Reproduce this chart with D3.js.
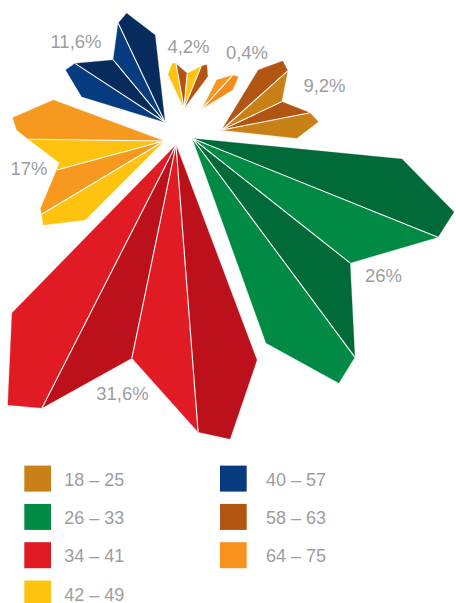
<!DOCTYPE html>
<html>
<head>
<meta charset="utf-8">
<script src="https://cdn.jsdelivr.net/npm/d3@7"></script>
<style>
  html, body { margin: 0; padding: 0; background: #fff; }
  svg { display: block; }
  text { font-family: "Liberation Sans", Arial, Helvetica, sans-serif; }
</style>
</head>
<body>
<svg id="chart" width="456" height="603"></svg>
<script>
// ---- data -------------------------------------------------------------
// share of each group (label text)
const groupLabels = ["11,6%", "4,2%", "0,4%", "9,2%", "26%", "31,6%", "17%"];

// outline of each group: vertex angles (degrees, clockwise from north)
// and vertex lengths, measured from the group's own hub
const anglesBlue   = [287.1, 297.8, 303.2, 320.3, 334.7, 340.6, 353.5];
const radiiBlue    = [87.1, 112.2, 107.6, 81.0, 109.5, 115.5, 87.9];
const anglesYellow = [-25.1, -14.6, -10.2, 5.4, 22.3, 27.6, 36.8];
const radiiYellow  = [37.2, 46.5, 45.2, 34.9, 45.3, 49.1, 39.6];
const anglesSmall  = [26.6, 42.3, 48.6, 58.6];
const radiiSmall   = [31.7, 44.6, 47.8, 35.1];
const anglesBrown  = [31.4, 41.5, 48.1, 64.7, 78.9, 85.1, 96.3];
const radiiBrown   = [70.3, 92.1, 88.7, 66.3, 90.0, 97.0, 75.5];
const anglesGreen  = [95.6, 105.7, 111.9, 128.3, 143.4, 149.1, 160.2];
const radiiGreen   = [210.5, 271.6, 264.5, 200.8, 272.3, 285.0, 217.3];
const anglesRed    = [159.4, 169.6, 175.6, 191.7, 207.0, 212.9, 224.3];
const radiiRed     = [229.8, 298.9, 287.8, 217.5, 295.2, 309.6, 234.8];
const anglesOrange = [225, 235.2, 239.1, 241.4, 254.9, 258.3, 270.7, 274.3, 278.75, 290.3];
const radiiOrange  = [111.7, 147.1, 142.6, 140.5, 111.2, 106.9, 135.7, 147.7, 153.1, 118.0];

// vertices where one sub-slice hands over to the next
const splitsBlue = [2, 3, 4], splitsYellow = [2, 3, 4], splitsSmall = [1],
      splitsBrown = [2, 3, 4], splitsGreen = [2, 3, 4], splitsRed = [2, 3, 4],
      splitsOrange = [2, 4, 6];

// legend
const legendLabels = ["18 – 25", "26 – 33", "34 – 41", "42 – 49", "40 – 57", "58 – 63", "64 – 75"];

// ---- styles & layout ----------------------------------------------------
const legendColors = ["#c98016", "#008a43", "#e01b23", "#fec20f", "#063b80", "#b25512", "#f7921e"];
const groupColors = [
  ["#063b80", "#072b5c"],
  ["#fec20f", "#b25512"],
  ["#f7961f", "#f38e1c"],
  ["#b25512", "#c98016"],
  ["#006a38", "#008a43"],
  ["#bc111a", "#e01b23"],
  ["#fec20f", "#f7981f"]
];
const center = [182, 126];
// hub of every group, pushed out from the centre: [distance, angle]
const hubOffsets = [[17.4, 282.3], [17.9, 6.4], [27.1, 49.2], [39.9, 95.8],
                    [16.3, 140], [19.9, 197.5], [23.4, 230.2]];
// label anchor (text centre x, baseline y)
const labelAt = [[76, 48], [188.5, 53], [247, 58.5], [324.5, 92],
                 [383.5, 282], [122.5, 400], [29, 175]];

const groups = [
  [anglesBlue, radiiBlue, splitsBlue],
  [anglesYellow, radiiYellow, splitsYellow],
  [anglesSmall, radiiSmall, splitsSmall],
  [anglesBrown, radiiBrown, splitsBrown],
  [anglesGreen, radiiGreen, splitsGreen],
  [anglesRed, radiiRed, splitsRed],
  [anglesOrange, radiiOrange, splitsOrange]
].map(([a, r, s], i) => ({
  label: groupLabels[i], angles: a, radii: r, splits: s,
  colors: groupColors[i], hub: hubOffsets[i], labelPos: labelAt[i]
}));

// ---- scales -------------------------------------------------------------
const angleScale = d3.scaleLinear().domain([0, 360]).range([0, 2 * Math.PI]);
const radiusScale = d3.scaleLinear().domain([0, 320]).range([0, 320]);

function polar(cx, cy, deg, len) {
  const t = angleScale(deg);
  return [cx + len * Math.sin(t), cy - len * Math.cos(t)];
}

const svg = d3.select("#chart");
const line = d3.line();

// ---- petals -------------------------------------------------------------
const petals = svg.append("g").attr("class", "petals");

groups.forEach(g => {
  const hub = polar(center[0], center[1], g.hub[1], g.hub[0]);
  const verts = g.angles.map((a, j) => polar(hub[0], hub[1], a, radiusScale(g.radii[j])));
  const bounds = [0, ...g.splits, verts.length - 1];
  const gg = petals.append("g");

  d3.range(bounds.length - 1).forEach(k => {
    const pts = [hub, ...verts.slice(bounds[k], bounds[k + 1] + 1)];
    gg.append("path")
      .attr("d", line(pts) + "Z")
      .attr("fill", g.colors[k % 2])
      .attr("stroke", g.colors[k % 2])
      .attr("stroke-width", 0.3)
      .attr("stroke-linejoin", "round");
  });

  gg.selectAll("line.split")
    .data(g.splits)
    .join("line")
    .attr("class", "split")
    .attr("x1", hub[0]).attr("y1", hub[1])
    .attr("x2", j => verts[j][0]).attr("y2", j => verts[j][1])
    .attr("stroke", "#fff")
    .attr("stroke-width", 1.1);
});

// ---- value labels ---------------------------------------------------------
svg.append("g").selectAll("text")
  .data(groups)
  .join("text")
  .attr("x", d => d.labelPos[0])
  .attr("y", d => d.labelPos[1])
  .attr("text-anchor", "middle")
  .attr("font-size", 18.5)
  .attr("fill", "#9d9d9d")
  .text(d => d.label);

// ---- legend -------------------------------------------------------------
const legendRow = d3.scaleLinear().domain([0, 1]).range([465.6, 503.9]);
const legend = svg.append("g").attr("class", "legend");
const items = legend.selectAll("g")
  .data(legendLabels.map((l, i) => ({ label: l, color: legendColors[i], col: i < 4 ? 0 : 1, row: i < 4 ? i : i - 4 })))
  .join("g")
  .attr("transform", d => `translate(${d.col ? 220 : 24.3},${legendRow(d.row)})`);

items.append("rect")
  .attr("width", 26.7)
  .attr("height", 26)
  .attr("fill", d => d.color);

items.append("text")
  .attr("x", d => d.col ? 46 : 40)
  .attr("y", 20.2)
  .attr("font-size", 18)
  .attr("fill", "#9d9d9d")
  .text(d => d.label);
</script>
</body>
</html>
